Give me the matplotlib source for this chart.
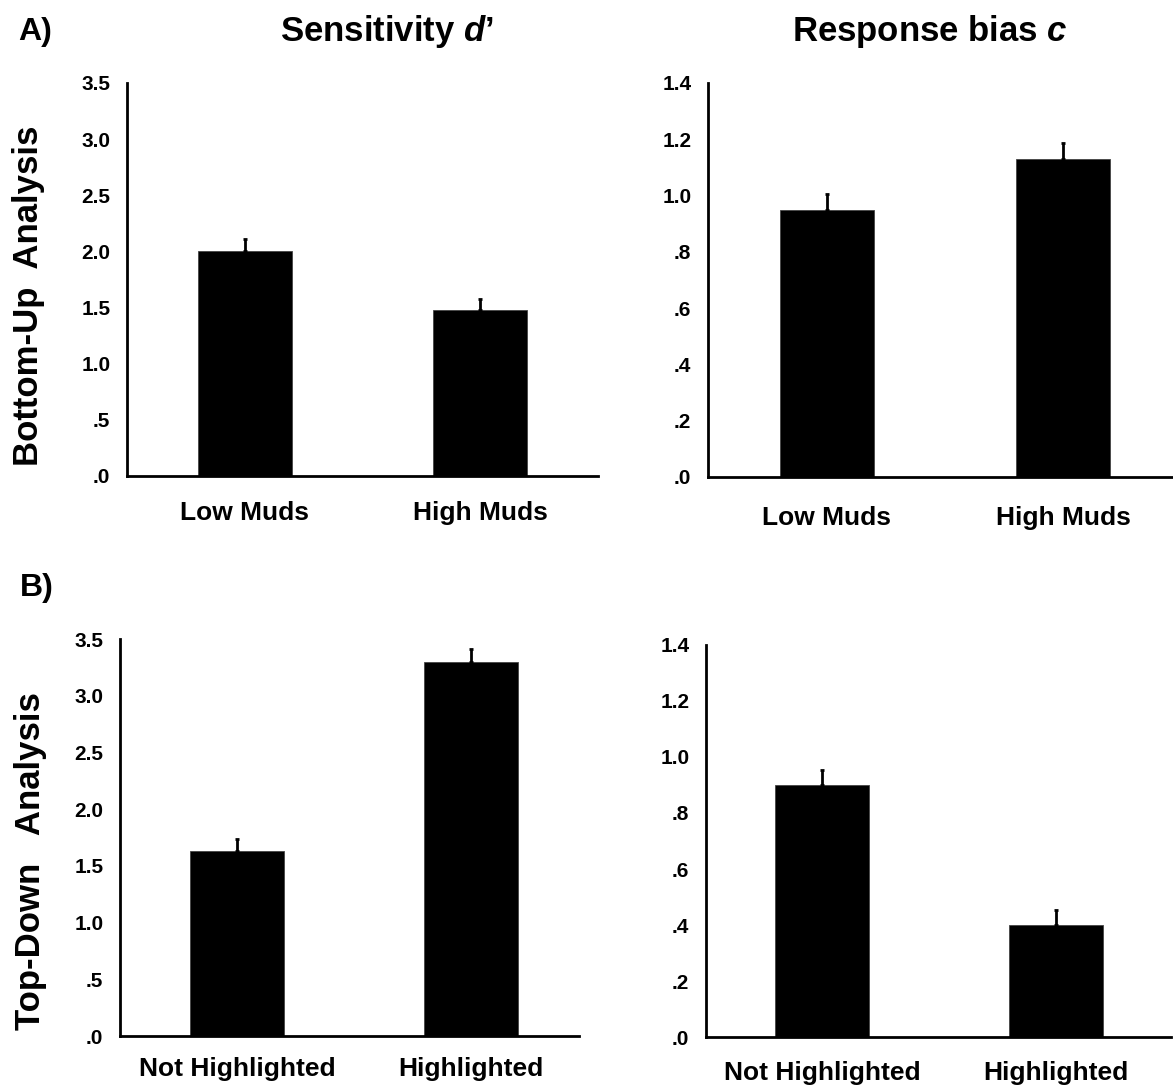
import matplotlib.pyplot as plt
import numpy as np

plt.rcParams['font.family'] = ['Liberation Sans', 'DejaVu Sans']
plt.rcParams['font.weight'] = 'bold'
plt.rcParams['mathtext.fontset'] = 'custom'
plt.rcParams['mathtext.it'] = 'Liberation Sans:italic:bold'
plt.rcParams['mathtext.rm'] = 'Liberation Sans:bold'

# categories
muds = ["Low Muds", "High Muds"]
highlight = ["Not Highlighted", "Highlighted"]

# bottom-up analysis
bu_dprime = [2.00, 1.48]
bu_dprime_err = [0.11, 0.10]
bu_bias = [0.95, 1.13]
bu_bias_err = [0.055, 0.055]

# top-down analysis
td_dprime = [1.63, 3.30]
td_dprime_err = [0.11, 0.11]
td_bias = [0.90, 0.40]
td_bias_err = [0.055, 0.055]

dprime_ticks = [0, 0.5, 1.0, 1.5, 2.0, 2.5, 3.0, 3.5]
bias_ticks = [0, 0.2, 0.4, 0.6, 0.8, 1.0, 1.2, 1.4]


def fmt(v):
    return f"{v:.1f}".lstrip("0")


def panel(rect, cats, vals, errs, ticks, xlim, catpad):
    ax = fig.add_axes(rect)
    x = np.arange(len(cats))
    ax.bar(x, vals, width=0.4, color="black", edgecolor="#444444", linewidth=0.6)
    ax.errorbar(x, vals, yerr=[np.zeros(len(errs)), errs], fmt="none",
                ecolor="black", elinewidth=2, capsize=1.5, capthick=2)
    ax.set_xlim(*xlim)
    ax.set_ylim(ticks[0], ticks[-1])
    ax.set_yticks(ticks)
    ax.set_yticklabels([fmt(t) for t in ticks], fontsize=15, fontweight="bold")
    ax.set_xticks(x)
    ax.set_xticklabels(cats, fontsize=19, fontweight="bold")
    ax.tick_params(axis="y", length=0, pad=12)
    ax.tick_params(axis="x", length=0, pad=catpad)
    for s in ["top", "right"]:
        ax.spines[s].set_visible(False)
    for s in ["left", "bottom"]:
        ax.spines[s].set_linewidth(2)
    return ax


fig = plt.figure(figsize=(11.73, 10.86), dpi=100)

panel([0.1083, 0.5617, 0.4015, 0.3619], muds, bu_dprime, bu_dprime_err,
      dprime_ticks, (-0.50, 1.50), 18)
panel([0.6036, 0.5608, 0.3955, 0.3628], muds, bu_bias, bu_bias_err,
      bias_ticks, (-0.503, 1.46), 21)
panel([0.1023, 0.0460, 0.3913, 0.3656], highlight, td_dprime, td_dprime_err,
      dprime_ticks, (-0.50, 1.46), 15)
panel([0.6019, 0.0451, 0.3964, 0.3610], highlight, td_bias, td_bias_err,
      bias_ticks, (-0.496, 1.49), 17)

fig.text(0.330, 0.9625, r"Sensitivity $\mathit{d’}$", fontsize=25,
         fontweight="bold", ha="center", va="baseline")
fig.text(0.793, 0.9625, r"Response bias $\mathit{c}$", fontsize=25,
         fontweight="bold", ha="center", va="baseline")
fig.text(0.0153, 0.9635, "A)", fontsize=23, fontweight="bold", va="baseline")
fig.text(0.0170, 0.4512, "B)", fontsize=23, fontweight="bold", va="baseline")

fig.text(0.0239, 0.7274, "Bottom-Up  Analysis", fontsize=25, fontweight="bold",
         rotation=90, ha="center", va="center")
fig.text(0.0256, 0.2072, "Top-Down   Analysis", fontsize=25, fontweight="bold",
         rotation=90, ha="center", va="center")

fig.savefig("out.png", dpi=100)
